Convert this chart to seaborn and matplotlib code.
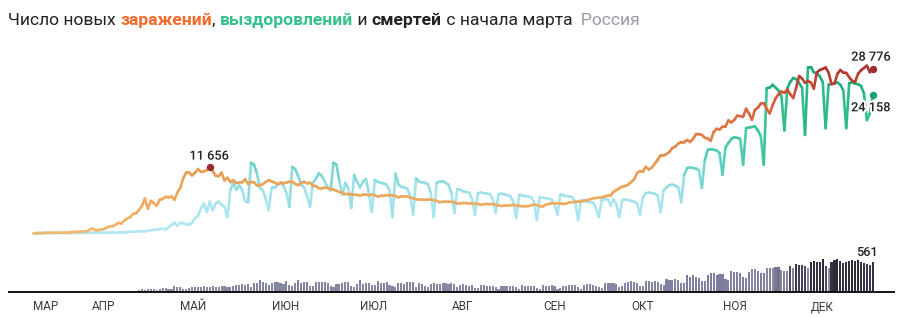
import numpy as np
import pandas as pd
import matplotlib
matplotlib.use("Agg")
import matplotlib.pyplot as plt
import seaborn as sns
from matplotlib.collections import LineCollection
from matplotlib.colors import LinearSegmentedColormap, Normalize
import matplotlib.patheffects as pe

# ---------------- data (daily values, 12 Mar 2020 .. 22 Dec 2020) ----------------
start_date = "2020-03-12"

cases_mar = [6, 6, 14, 4, 30, 21, 33, 52, 54, 53, 62, 71, 57, 163, 182, 196, 228, 270, 302, 501]
cases_apr = [771, 601, 601, 582, 658, 954, 1154, 1175, 1459, 1786, 1667, 2186, 2558, 2774, 3388,
             3448, 4070, 4785, 6060, 4268, 5642, 5236, 4774, 5849, 5966, 6361, 6198, 6411, 5841, 7099]
cases_may = [7933, 9623, 10633, 10581, 10102, 10559, 11231, 10699, 10817, 11012, 11656, 10899, 10028,
             9974, 10598, 9200, 9709, 8926, 9263, 8764, 8849, 8894, 9434, 8599, 8946, 8915, 8338,
             8371, 8572, 8952, 9268]
cases_jun = [9035, 8863, 8536, 8831, 8726, 8855, 8984, 8985, 8595, 8404, 8779, 8987, 8706, 8835,
             8246, 8248, 7843, 7790, 7972, 7889, 7728, 7600, 7425, 7176, 7113, 6800, 6852, 6791,
             6719, 6693]
cases_jul = [6556, 6760, 6718, 6632, 6736, 6611, 6368, 6562, 6509, 6635, 6611, 6615, 6537, 6248,
             6422, 6428, 6406, 6234, 6109, 5940, 5842, 5862, 5811, 5848, 5871, 5765, 5635, 5395,
             5475, 5509, 5482]
cases_aug = [5462, 5427, 5159, 5204, 5267, 5241, 5212, 5189, 5118, 5102, 4945, 5058, 5102, 5061,
             5065, 4969, 4839, 4718, 4828, 4785, 4870, 4921, 4852, 4744, 4676, 4696, 4711, 4829,
             4980, 4897, 4729]
cases_sep = [4729, 4952, 5110, 5185, 5205, 5195, 5185, 5099, 5172, 5363, 5406, 5449, 5509, 5529,
             5670, 5762, 5905, 6065, 6148, 6196, 6215, 6431, 6595, 6595, 7212, 7523, 7867, 8135,
             8232, 8481]
cases_oct = [8945, 9412, 10499, 10888, 10888, 11615, 11115, 11493, 12126, 12846, 13634, 13592,
             13868, 14231, 14922, 15150, 15700, 15982, 15982, 16319, 15971, 16521, 17340, 17347,
             17205, 16710, 16550, 16202, 17717, 18283, 18140]
cases_nov = [18665, 18648, 19768, 19404, 19851, 20582, 20498, 20396, 21798, 20977, 19851, 21608,
             21983, 22702, 22778, 21798, 20977, 22410, 23610, 24318, 24822, 24581, 25173, 24326,
             23675, 25487, 27543, 27100, 26338, 26683]
cases_dec = [26402, 25345, 28145, 28585, 28782, 29039, 28142, 26097, 26190, 27927, 28585, 28137,
             28080, 27328, 26689, 26509, 27921, 28552, 28948, 29350, 28209, 28776]

rec_mar = [0, 0, 0, 0, 1, 0, 2, 3, 4, 3, 5, 8, 4, 6, 9, 10, 12, 16, 20, 25]
rec_apr = [30, 35, 40, 45, 50, 60, 55, 70, 90, 100, 120, 100, 150, 200, 230, 260, 300, 330, 280,
           400, 480, 550, 600, 700, 750, 620, 1000, 1400, 1800, 1300]
rec_may = [1800, 1700, 1500, 1500, 1800, 2600, 3000, 4300, 5200, 3700, 5500, 4000, 5200, 5500,
           5000, 4600, 2800, 7600, 8800, 7600, 8400, 7500, 5500, 5400, 12300, 12000, 10500, 7900,
           7500, 6000, 4000]
rec_jun = [8000, 8000, 8500, 8800, 8300, 7000, 4600, 11600, 11200, 10000, 8500, 8000, 6500, 4600,
           8800, 9500, 10500, 10000, 9000, 8000, 7500, 12300, 12000, 9000, 6700, 8800, 7900, 4400,
           10200, 9000]
rec_jul = [8000, 9000, 9500, 7000, 3700, 9300, 9000, 8800, 8700, 8500, 7500, 2800, 10400, 8500,
           8100, 8000, 7800, 6500, 3200, 9600, 9000, 8900, 8800, 8600, 7000, 2800, 8800, 9000,
           9100, 8800, 8500]
rec_aug = [7000, 3500, 7700, 7600, 7300, 7200, 7100, 6000, 3200, 7000, 7100, 7000, 6900, 6800,
           6000, 3500, 6800, 6900, 6800, 6600, 6500, 5500, 2600, 6700, 6600, 6500, 6400, 6300,
           5500, 2300, 6300]
rec_sep = [6200, 6100, 6000, 5900, 5000, 3200, 6800, 6600, 6500, 6400, 6300, 5500, 2300, 5800,
           5600, 5500, 5400, 5400, 4500, 2800, 5800, 5900, 6000, 4800, 5900, 5000, 2800, 5800,
           5900, 5800]
rec_oct = [5600, 5500, 5200, 3200, 6300, 7000, 7100, 7000, 6900, 6500, 3700, 7500, 8000, 8400,
           8500, 8300, 8000, 5400, 10200, 11400, 11500, 11400, 11300, 11000, 7900, 12800, 14600,
           14700, 14600, 14500, 14000]
rec_nov = [10200, 15000, 15800, 16500, 16800, 16700, 16500, 12000, 18400, 18500, 18600, 18700,
           18000, 17000, 12000, 25400, 25500, 26000, 25500, 25000, 24000, 18000, 25400, 26500,
           27200, 27000, 26300, 25500, 17200, 29100]
rec_dec = [29100, 28200, 28000, 27500, 26500, 18400, 26000, 26200, 26300, 26400, 26000, 25000,
           18400, 26300, 26400, 26200, 26100, 25800, 24500, 19800, 21000, 24158]

deaths_mar = [0, 0, 0, 0, 0, 0, 0, 1, 0, 0, 0, 0, 0, 1, 0, 1, 1, 1, 2, 2]
deaths_apr = [7, 3, 4, 4, 2, 11, 11, 13, 18, 18, 18, 12, 24, 22, 19, 28, 41, 48, 41, 51, 51, 57,
              42, 60, 66, 72, 47, 58, 108, 101]
deaths_may = [96, 57, 58, 76, 95, 86, 88, 98, 104, 88, 94, 107, 96, 93, 113, 119, 94, 91, 115,
              135, 127, 150, 139, 153, 92, 174, 161, 232, 181, 162, 138]
deaths_jun = [162, 182, 178, 169, 144, 197, 134, 112, 171, 216, 174, 181, 194, 119, 113, 193, 194,
              182, 181, 161, 109, 95, 153, 154, 176, 188, 188, 104, 93, 154]
deaths_jul = [216, 147, 168, 168, 134, 135, 198, 173, 174, 188, 130, 115, 95, 175, 175, 150, 186,
              180, 179, 85, 165, 141, 114, 98, 146, 165, 147, 150, 172, 161, 156]
deaths_aug = [161, 147, 95, 140, 144, 129, 114, 129, 77, 70, 130, 129, 112, 114, 117, 94, 60, 114,
              110, 121, 120, 112, 89, 63, 122, 119, 117, 117, 119, 71, 55]
deaths_sep = [123, 110, 119, 129, 120, 56, 68, 121, 119, 139, 135, 132, 90, 62, 134, 150, 146,
              137, 120, 90, 73, 160, 169, 172, 170, 150, 92, 108, 170, 186]
deaths_oct = [201, 186, 169, 117, 114, 198, 201, 195, 206, 190, 141, 134, 244, 232, 231, 234, 220,
              176, 166, 317, 286, 317, 280, 268, 214, 210, 320, 346, 355, 310, 334]
deaths_nov = [334, 249, 229, 389, 376, 378, 349, 286, 256, 368, 439, 432, 387, 351, 361, 442, 456,
              451, 463, 467, 410, 401, 395, 491, 456, 524, 510, 496, 491, 442]
deaths_dec = [569, 589, 554, 560, 613, 491, 450, 562, 594, 613, 577, 550, 567, 585, 601, 587, 595,
              560, 541, 520, 505, 561]

month_labels = ["МАР", "АПР", "МАЙ", "ИЮН", "ИЮЛ", "АВГ", "СЕН", "ОКТ", "НОЯ", "ДЕК"]
month_starts = ["2020-03-12", "2020-04-01", "2020-05-01", "2020-06-01", "2020-07-01",
                "2020-08-01", "2020-09-01", "2020-10-01", "2020-11-01", "2020-12-01"]

title_parts = [("Число новых ", "#222222", "normal"),
               ("заражений", "#f26b2a", "bold"),
               (", ", "#222222", "normal"),
               ("выздоровлений", "#35c08c", "bold"),
               (" и ", "#222222", "normal"),
               ("смертей", "#222222", "bold"),
               (" с начала марта", "#222222", "normal"),
               ("  Россия", "#9a9aab", "normal")]

# ---------------- assemble ----------------
cases = np.array(cases_mar + cases_apr + cases_may + cases_jun + cases_jul + cases_aug
                 + cases_sep + cases_oct + cases_nov + cases_dec, dtype=float)
recov = np.array(rec_mar + rec_apr + rec_may + rec_jun + rec_jul + rec_aug
                 + rec_sep + rec_oct + rec_nov + rec_dec, dtype=float)
deaths = np.array(deaths_mar + deaths_apr + deaths_may + deaths_jun + deaths_jul + deaths_aug
                  + deaths_sep + deaths_oct + deaths_nov + deaths_dec, dtype=float)
dates = pd.date_range(start_date, periods=len(cases), freq="D")
day = np.asarray((dates - dates[0]).days, dtype=float)
df = pd.DataFrame({"day": day, "cases": cases, "recov": recov, "deaths": deaths})
tick_days = [(pd.Timestamp(m) - dates[0]).days for m in month_starts]

# ---------------- style ----------------
sns.set_theme(style="white")
FONT = ["Roboto", "DejaVu Sans"]
plt.rcParams["font.family"] = FONT

W, H = 900, 317
fig = plt.figure(figsize=(W / 100, H / 100), dpi=100)
fig.patch.set_facecolor("white")

XL = (-8.14, 292.2)

def frac_box(left_px, right_px, top_px, bottom_px):
    return [left_px / W, 1 - bottom_px / H, (right_px - left_px) / W, (bottom_px - top_px) / H]

ax = fig.add_axes(frac_box(9, 894, 40, 240))
axb = fig.add_axes(frac_box(9, 894, 232, 292))
for a in (ax, axb):
    a.set_facecolor("none")
    a.set_xlim(*XL)
    for s in a.spines.values():
        s.set_visible(False)
ax.set_ylim(-1228, 33860)
ax.set_xticks([])
ax.set_yticks([])

cmap_cases = sns.blend_palette(["#f0b86e", "#edaa5f", "#e89a52", "#e27a45", "#d45a3a", "#a8302c"],
                               as_cmap=True)
cmap_rec = LinearSegmentedColormap.from_list(
    "rec", [(0, "#b2e7f2"), (0.2, "#a8e4ef"), (0.3, "#8bdcde"), (0.42, "#5ccfbf"),
            (0.6, "#40c59c"), (0.85, "#22b47e"), (1.0, "#18a872")])
norm_l = Normalize(0, 29500)

def gradient_line(a, x, y, cmap, lw=1.9, z=2):
    pts = np.column_stack([x, y])
    segs = np.stack([pts[:-1], pts[1:]], axis=1)
    mids = (y[:-1] + y[1:]) / 2
    lc = LineCollection(segs, colors=cmap(norm_l(mids)), linewidths=lw,
                        capstyle="round", joinstyle="round", zorder=z)
    a.add_collection(lc)

gradient_line(ax, df["day"].values, df["recov"].values, cmap_rec, z=2)
gradient_line(ax, df["day"].values, df["cases"].values, cmap_cases, z=3)

# markers and labels
i_peak = int(np.argmax(cases[:120]))
last = len(cases) - 1
ax.scatter([day[i_peak], day[last]], [cases[i_peak], cases[last]], s=28, color="#9c2b2e",
           zorder=5, linewidths=0)
ax.scatter([day[last]], [recov[last]], s=28, color="#1b9e6c", zorder=5, linewidths=0)

def fmt(v):
    return f"{int(round(v)):,}".replace(",", " ")

lab_kw = dict(fontsize=9.2, color="#222222", fontweight="medium", ha="center", va="center",
              textcoords="offset points", zorder=6, family=FONT)
halo = [pe.withStroke(linewidth=3, foreground="white")]
ax.annotate(fmt(cases[i_peak]), (day[i_peak], cases[i_peak]), xytext=(-0.5, 7.5), path_effects=halo, **lab_kw)
ax.annotate(fmt(cases[last]), (day[last], cases[last]), xytext=(-1.5, 8.5), path_effects=halo, **lab_kw)
ax.annotate(fmt(recov[last]), (day[last], recov[last]), xytext=(-1.5, -9), path_effects=halo, **lab_kw)

# deaths bars
cmap_d = LinearSegmentedColormap.from_list(
    "deaths", [(0, "#8d8fab"), (0.55, "#7b7d9c"), (0.74, "#8a8ba6"), (0.82, "#3e3f52"), (1.0, "#2a2a36")])
norm_d = Normalize(0, 610)
axb.bar(df["day"], df["deaths"], width=0.72, color=cmap_d(norm_d(df["deaths"].values)),
        linewidth=0, zorder=2)
axb.set_xlim(*XL)
axb.set_ylim(0, 1122)
axb.set_yticks([])
axb.spines["bottom"].set_visible(True)
axb.spines["bottom"].set_color("#111111")
axb.spines["bottom"].set_linewidth(1.4)
axb.annotate(fmt(deaths[last]), (day[last], deaths[last]), xytext=(-4, 2.5),
             textcoords="offset points", ha="center", va="bottom", fontsize=9.2,
             fontweight="medium", color="#222222", family=FONT, zorder=6)

axb.set_xticks(tick_days)
axb.set_xticklabels(month_labels, fontsize=8.5, color="#3a3a44", ha="left")
axb.tick_params(axis="x", length=0, pad=6)

# title
fig.canvas.draw()
renderer = fig.canvas.get_renderer()
TS = 12.6
x = 8
for txt, col, w in title_parts:
    fig.text(x / W, 1 - 25 / H, txt, color=col, fontweight=w, fontsize=TS,
             va="baseline", ha="left", family=FONT)
    ref = fig.text(0, 0, "ш" + txt + "ш", fontsize=TS, fontweight=w, family=FONT)
    ref2 = fig.text(0, 0, "шш", fontsize=TS, fontweight=w, family=FONT)
    wdt = ref.get_window_extent(renderer).width - ref2.get_window_extent(renderer).width
    ref.remove(); ref2.remove()
    x += wdt

fig.savefig("out.png", dpi=100, facecolor="white")
